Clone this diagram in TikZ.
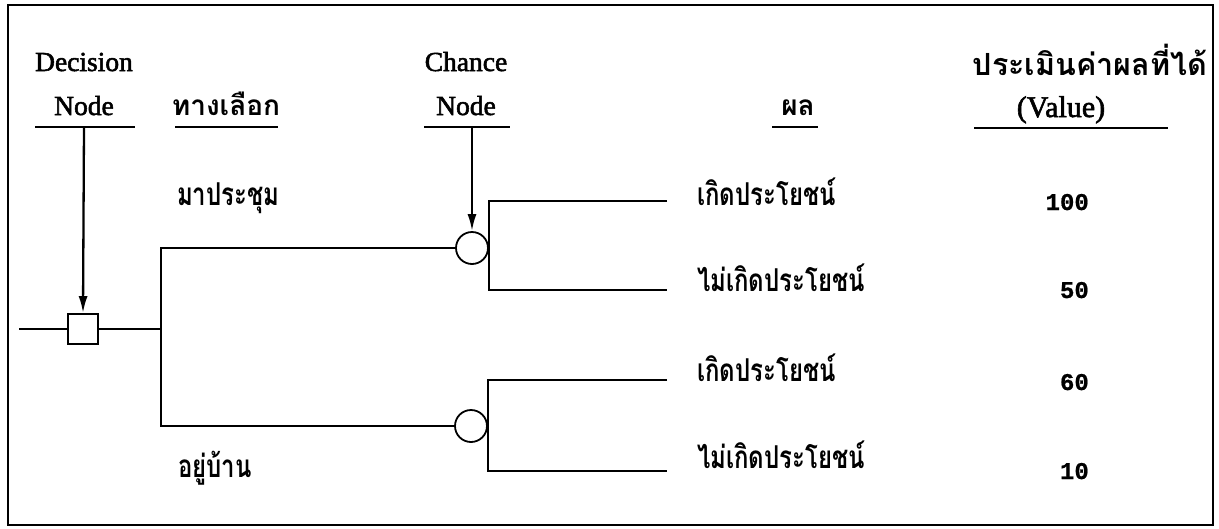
\documentclass[tikz,border=0pt]{standalone}
\usepackage{fontspec}
\usepackage{graphicx}
\setmainfont{Liberation Serif}
\newfontfamily\heavyserif{Liberation Serif}[FakeBold=2]
\newfontfamily\thai[Script=Thai]{Loma}
\newfontfamily\nummono{Liberation Mono Bold}[FakeBold=0.8]
\newcommand{\condensed}[1]{\scalebox{0.76}[1]{#1}}
\usetikzlibrary{arrows.meta}
\begin{document}
\begin{tikzpicture}[x=1pt,y=-1pt,
  edge/.style={line width=2.3pt},
  pointer/.style={line width=2.3pt,-{Latex[length=17pt,width=9pt]}},
  rulebar/.style={line width=2.3pt},
  head/.style={font=\fontsize{27.5}{32}\selectfont\heavyserif, inner sep=0pt, anchor=base},
  thaihead/.style={font=\fontsize{28}{34}\selectfont\thai\bfseries, inner sep=0pt, anchor=base},
  thaitext/.style={font=\fontsize{31.5}{36}\selectfont\thai\bfseries, inner sep=0pt, anchor=base west},
  val/.style={font=\fontsize{24}{28}\selectfont\nummono, inner sep=0pt, anchor=base east},
  decbox/.style={draw, line width=1.8pt, minimum size=30pt, inner sep=0pt},
  chancebox/.style={draw, circle, line width=1.8pt, minimum size=32pt, inner sep=0pt}]

\useasboundingbox (0,0) rectangle (1219,528);
\draw[line width=2.6pt] (8,5) rectangle (1213,525);

% column headings
\node[head] (hdec1) at (84,71) {Decision};
\node[head] (hdec2) at (84,115) {Node};
\draw[rulebar] (35,127) -- (135,127);
\node[thaihead] (halt) at (226,115) {ทางเลือก};
\draw[rulebar] (175,127) -- (278,127);
\node[head] (hch1) at (466,71) {Chance};
\node[head] (hch2) at (466,115) {Node};
\draw[rulebar] (424,127) -- (510,127);
\node[thaihead] (hres) at (798,115) {ผล};
\draw[rulebar] (772,127) -- (818,127);
\node[thaihead, font=\fontsize{30.5}{36}\selectfont\thai\bfseries] (hval1) at (1090,75) {ประเมินค่าผลที่ได้};
\node[head, font=\fontsize{30}{34}\selectfont\heavyserif] (hval2) at (1061,117) {(Value)};
\draw[rulebar] (974,128) -- (1168,128);

% decision and chance nodes
\node[decbox] (D) at (83,329) {};
\node[chancebox] (C1) at (472,248) {};
\node[chancebox] (C2) at (471,426) {};

\coordinate (din) at (19,329);
\coordinate (fork) at (161,329);
\coordinate (darr) at (84,127);
\coordinate (carr) at (472,127);

% alternatives
\draw[edge] (din) -- (D.west);
\draw[edge] (D.east) -- (fork);
\draw[edge] (C1.west) -- (C1.west -| fork) -- (C2.west -| fork) -- (C2.west);
\node[thaitext] (alt1) at (177,205) {\condensed{มาประชุม}};
\node[thaitext] (alt2) at (178,477) {\condensed{อยู่บ้าน}};

% outcomes
\coordinate (o1) at (667,201);
\coordinate (o2) at (667,290);
\coordinate (o3) at (667,380);
\coordinate (o4) at (667,471);
\draw[edge] (o1) -- (o1 -| C1.east) -- (o2 -| C1.east) -- (o2);
\draw[edge] (o3) -- (o3 -| C2.east) -- (o4 -| C2.east) -- (o4);

\node[thaitext] (r1) at (697,205) {\condensed{เกิดประโยชน์}};
\node[thaitext] (r2) at (697,291) {\condensed{ไม่เกิดประโยชน์}};
\node[thaitext] (r3) at (697,381) {\condensed{เกิดประโยชน์}};
\node[thaitext] (r4) at (697,468) {\condensed{ไม่เกิดประโยชน์}};

% values
\node[val] (v1) at (1089,210) {100};
\node[val] (v2) at (1089,298) {50};
\node[val] (v3) at (1089,390) {60};
\node[val] (v4) at (1089,479) {10};

% pointers to the node symbols
\draw[pointer] (darr) -- (D.north);
\draw[pointer] (carr) -- (C1.north);
\end{tikzpicture}
\end{document}
